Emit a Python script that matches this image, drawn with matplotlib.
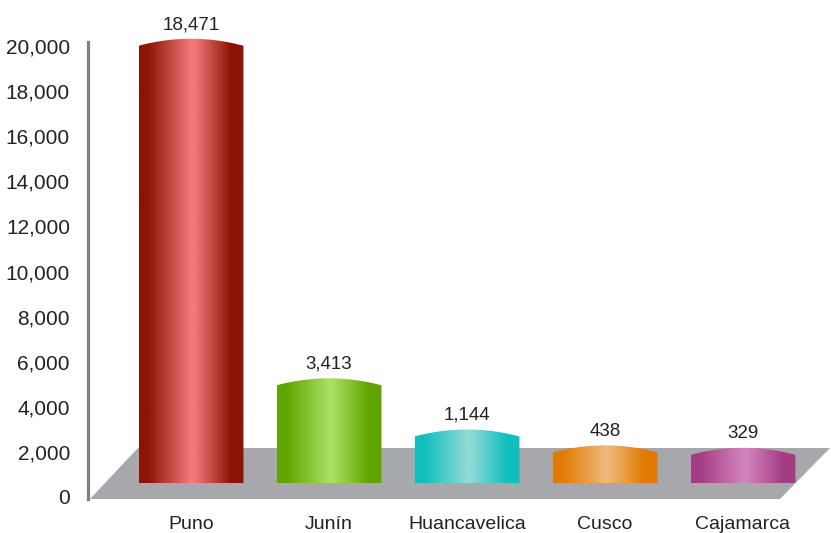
import numpy as np
import matplotlib
matplotlib.use("Agg")
import matplotlib.pyplot as plt
from matplotlib.path import Path
from matplotlib.patches import PathPatch, Polygon
from matplotlib.colors import to_rgb

plt.rcParams['font.family'] = ['Liberation Sans', 'DejaVu Sans']

# data
regions = ["Puno", "Junín", "Huancavelica", "Cusco", "Cajamarca"]
values = [18471, 3413, 1144, 438, 329]
dark_colors = ["#8C1404", "#5FA400", "#0FBFBE", "#E27A00", "#A43C84"]
light_colors = ["#F47A7A", "#A9E063", "#92DAD7", "#EFB87A", "#D384BC"]
yticks = list(range(0, 20001, 2000))

# layout (pixel-based, figure 831x533 at 100 dpi)
W, H = 831, 533
ppu = 451 / 20000          # pixels per data unit on y
y0_px = 497                # pixel row of y = 0
ax_top_px, ax_bot_px = 20, 505
ax_left_px, ax_right_px = 88, 831
step_px, first_px = 138, 191

fig = plt.figure(figsize=(W / 100, H / 100), dpi=100)
ax = fig.add_axes([ax_left_px / W, 1 - ax_bot_px / H,
                   (ax_right_px - ax_left_px) / W, (ax_bot_px - ax_top_px) / H])

xlim = ((ax_left_px - first_px) / step_px, (ax_right_px - first_px) / step_px)
ylim = (-(ax_bot_px - y0_px) / ppu, (y0_px - ax_top_px) / ppu)

def px_x(p):
    return (p - first_px) / step_px

def px_y(p):
    return (y0_px - p) / ppu

# 3D-style floor
floor = Polygon([(px_x(90), px_y(499)), (px_x(138), px_y(448)),
                 (px_x(830), px_y(448)), (px_x(780), px_y(499))],
                closed=True, facecolor="#A7A8AB", edgecolor="none", zorder=1)
ax.add_patch(floor)

# bars with rounded tops and horizontal gradient
base = px_y(483)
offset = 1540
arc = 7 / ppu
width = 0.76
stops = [0.0, 0.08, 0.5, 0.53, 0.88, 1.0]

for i, (v, dc, lc) in enumerate(zip(values, dark_colors, light_colors)):
    x0, x1 = i - width / 2, i + width / 2
    top = v + offset
    t = np.linspace(0, 1, 40)
    xs = x0 + t * (x1 - x0)
    ys = top + arc * (1 - (2 * t - 1) ** 2)
    verts = [(x0, base)] + list(zip(xs, ys)) + [(x1, base), (x0, base)]
    codes = [Path.MOVETO] + [Path.LINETO] * (len(verts) - 2) + [Path.CLOSEPOLY]
    patch = PathPatch(Path(verts, codes), facecolor="none", edgecolor="none", zorder=2)
    ax.add_patch(patch)

    d = np.array(to_rgb(dc))
    l = np.array(to_rgb(lc))
    cols = [d, d, l, l, d, d]
    g = np.linspace(0, 1, 200)
    grad = np.stack([np.interp(g, stops, [c[k] for c in cols]) for k in range(3)], axis=-1)
    img = ax.imshow(grad[np.newaxis, :, :], extent=[x0, x1, base, top + arc],
                    aspect="auto", zorder=2, interpolation="bilinear")
    img.set_clip_path(patch)

    ax.text(i, top + arc + 14 / ppu, f"{v:,}", ha="center", va="center",
            fontsize=13.5, color="#222222")

ax.set_xlim(*xlim)
ax.set_ylim(*ylim)

for s in ["top", "right", "bottom"]:
    ax.spines[s].set_visible(False)
ax.spines["left"].set_color("#808080")
ax.spines["left"].set_linewidth(2.3)
ax.spines["left"].set_bounds(px_y(499), px_y(42))

ax.set_yticks(yticks)
ax.set_yticklabels([f"{t:,}" for t in yticks], fontsize=15, color="#222222")
ax.tick_params(axis="y", length=0, pad=13)
ax.set_xticks(range(len(regions)))
ax.set_xticklabels(regions, fontsize=14, color="#222222")
ax.tick_params(axis="x", length=0, pad=8)

fig.savefig("out.png", dpi=100)
